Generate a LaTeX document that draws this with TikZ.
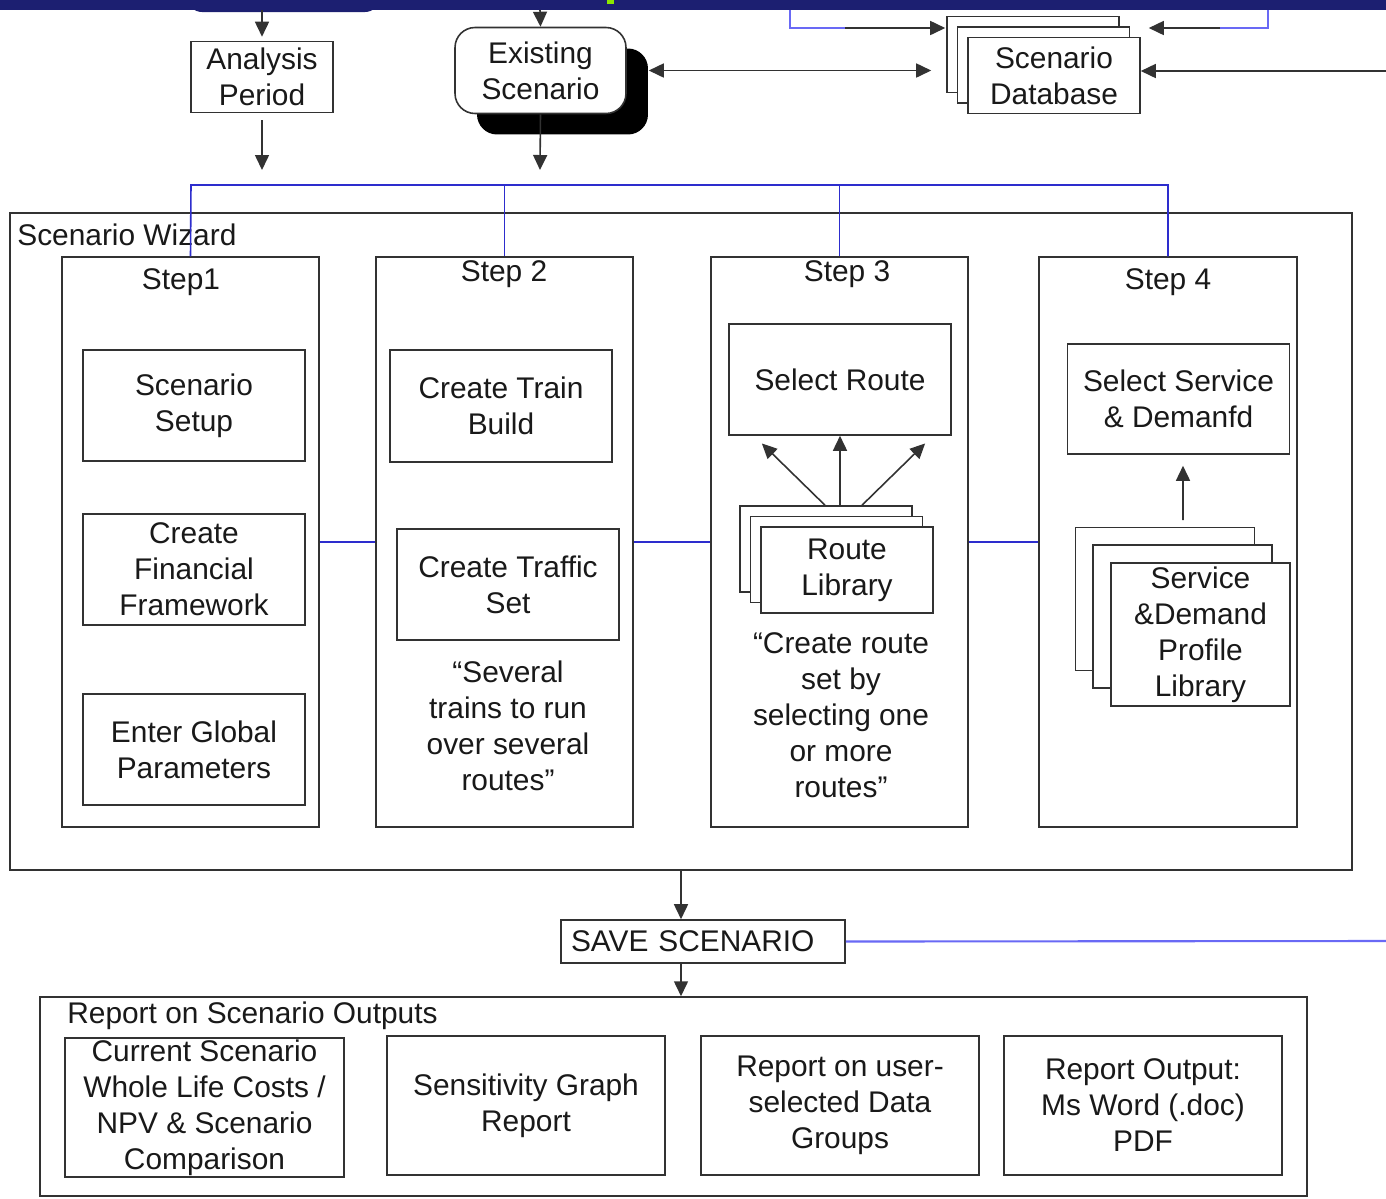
\documentclass[tikz,border=0pt]{standalone}
\usepackage{fontspec}
\setmainfont{Liberation Sans}
\usetikzlibrary{arrows.meta,shadows}
\definecolor{navyband}{RGB}{28,31,113}
\definecolor{greenmark}{RGB}{140,230,0}
\definecolor{busblue}{RGB}{45,45,205}
\definecolor{linkblue}{RGB}{105,105,245}
\definecolor{edgegrey}{RGB}{50,50,50}

\begin{document}
\begin{tikzpicture}[x=0.02cm,y=-0.02cm,
  every node/.style={font=\fontsize{17}{20.5}\selectfont,text=black!90},
  box/.style={draw=edgegrey,line width=0.9pt,fill=white,align=center,inner sep=0pt},
  stack/.style={box,
    copy shadow={draw=edgegrey,fill=white,line width=1.05pt,shadow xshift=-2*#1,shadow yshift=2*#1},
    copy shadow={draw=edgegrey,fill=white,line width=1.05pt,shadow xshift=-#1,shadow yshift=#1}},
  arr/.style={-{Triangle[length=0.3cm,width=0.28cm]},color=edgegrey,line width=0.9pt},
  bus/.style={draw=busblue,line width=0.9pt},
  link/.style={draw=linkblue,line width=1.2pt}]
\useasboundingbox (0,0) rectangle (1386,1198);

\fill[navyband,rounded corners=0.3cm] (187,-20) rectangle (380,12);
\fill[navyband] (0,0) rectangle (1386,10);
\fill[greenmark] (607,0) rectangle (614,4);

\coordinate (intop1) at (262,10);
\coordinate (intop2) at (540,10);
\coordinate (outperiod) at (262,170);
\coordinate (outexisting) at (540,170);
\coordinate (inright) at (1386,71);
\coordinate (feedL) at (790,10);
\coordinate (feedLend) at (845,28);
\coordinate (feedR) at (1268,10);
\coordinate (feedRend) at (1220,28);
\coordinate (busL) at (191,185);
\coordinate (saveout) at (1386,941);

\node[box,minimum width=2.84cm,minimum height=1.42cm] (period) at (262,77) {Analysis\\Period};
\node[box,rounded corners=0.4cm,minimum width=3.42cm,minimum height=1.72cm,
  drop shadow={shadow xshift=0.44cm,shadow yshift=-0.42cm,fill=black,opacity=1}] (existing) at (540.5,70.5) {Existing\\Scenario};
\node[stack=0.21cm,minimum width=3.44cm,minimum height=1.52cm] (database) at (1054,75.5) {Scenario\\Database};

\node[box,minimum width=26.84cm,minimum height=13.14cm] (wizard) at (681,541.5) {};
\node[anchor=west,inner sep=0pt] (wizardlabel) at (17,235) {Scenario Wizard};

\node[box,minimum width=5.14cm,minimum height=11.4cm] (step1) at (190.5,542) {};
\node[box,minimum width=5.14cm,minimum height=11.4cm] (step2) at (504.5,542) {};
\node[box,minimum width=5.14cm,minimum height=11.4cm] (step3) at (839.5,542) {};
\node[box,minimum width=5.16cm,minimum height=11.4cm] (step4) at (1168,542) {};
\node (step1label) at (181,282) {Step1};
\node (step2label) at (504,274) {Step 2};
\node (step3label) at (847,274) {Step 3};
\node (step4label) at (1168,282) {Step 4};

\node[box,minimum width=4.44cm,minimum height=2.22cm] (setup) at (194,405.5) {Scenario\\Setup};
\node[box,minimum width=4.44cm,minimum height=2.22cm] (finance) at (194,569.5) {Create\\Financial\\Framework};
\node[box,minimum width=4.44cm,minimum height=2.22cm] (globals) at (194,749.5) {Enter Global\\Parameters};

\node[box,minimum width=4.44cm,minimum height=2.24cm] (trainbuild) at (501,406) {Create Train\\Build};
\node[box,minimum width=4.44cm,minimum height=2.22cm] (traffic) at (508,584.5) {Create Traffic\\Set};
\node[align=center] (trafficnote) at (508,725.5) {“Several\\trains to run\\over several\\routes”};

\node[box,minimum width=4.44cm,minimum height=2.22cm] (route) at (840,379.5) {Select Route};
\node[stack=0.21cm,minimum width=3.44cm,minimum height=1.72cm] (library) at (847,570) {Route\\Library};
\node[align=center] (routenote) at (841,715) {“Create route\\set by\\selecting one\\or more\\routes”};

\node[box,minimum width=4.44cm,minimum height=2.2cm] (service) at (1178.5,399) {Select Service\\\& Demanfd};
\node[stack=0.355cm,minimum width=3.58cm,minimum height=2.86cm] (profiles) at (1200.5,634.5) {Service\\\&Demand\\Profile\\Library};

\node[box,align=left,text width=5.28cm,inner xsep=0.2cm,minimum height=0.86cm] (save) at (703,941.5) {SAVE SCENARIO};

\node[box,minimum width=25.34cm,minimum height=3.98cm] (report) at (673.5,1096.5) {};
\node[anchor=west,inner sep=0pt] (reportlabel) at (67,1016) {Report on Scenario Outputs};
\node[box,minimum width=5.58cm,minimum height=2.78cm] (costs) at (204.5,1107.5) {Current Scenario\\Whole Life Costs /\\NPV \& Scenario\\Comparison};
\node[box,minimum width=5.56cm,minimum height=2.78cm] (sensitivity) at (526,1105.5) {Sensitivity Graph\\Report};
\node[box,minimum width=5.56cm,minimum height=2.78cm] (usergroups) at (840,1105.5) {Report on user-\\selected Data\\Groups};
\node[box,minimum width=5.56cm,minimum height=2.78cm] (wordpdf) at (1143,1105.5) {Report Output:\\Ms Word (.doc)\\PDF};

\draw[bus] (step1.north) -- (busL) -| (step4.north);
\draw[bus] (step2.north) -- (step2.north |- busL);
\draw[bus] (step3.north) -- (step3.north |- busL);
\draw[bus] (step1.east) -- (step2.west);
\draw[bus] (step2.east) -- (step3.west);
\draw[bus] (step3.east) -- (step4.west);
\draw[link] (feedL) |- (feedLend);
\draw[link] (feedR) |- (feedRend);
\draw[link] (save.east) -- (saveout);

\path [arr]

(intop1)
edge [shorten >=0.08cm]
(period)

(intop2)
edge
(existing.north)

(period.south)
edge [shorten <=0.14cm]
(outperiod)

(existing.south)
edge
(outexisting)

(existing.east)
edge [{Triangle[length=0.3cm,width=0.28cm]}-{Triangle[length=0.3cm,width=0.28cm]},shorten <=0.44cm,shorten >=0.72cm]
(existing.east -| database.west)

(inright)
edge
(inright -| database.east)

(feedLend)
edge [shorten >=0.44cm]
(feedLend -| database.west)

(feedRend)
edge [shorten >=0.16cm]
(feedRend -| database.east)

([xshift=-0.44cm,yshift=0.42cm]library.north)
edge [shorten >=0.22cm]
([xshift=-1.72cm]route.south)

([xshift=0cm,yshift=0.42cm]library.north -| route.south)
edge
(route.south)

([xshift=0.3cm,yshift=0.42cm]library.north)
edge [shorten >=0.22cm]
([xshift=1.86cm]route.south)

([xshift=-0.35cm,yshift=0.84cm]profiles.north)
edge [shorten >=0.22cm]
([xshift=0.09cm]service.south)

(wizard.south)
edge
(wizard.south |- save.north)

(wizard.south |- save.south)
edge
(wizard.south |- report.north)

;
\end{tikzpicture}
\end{document}
